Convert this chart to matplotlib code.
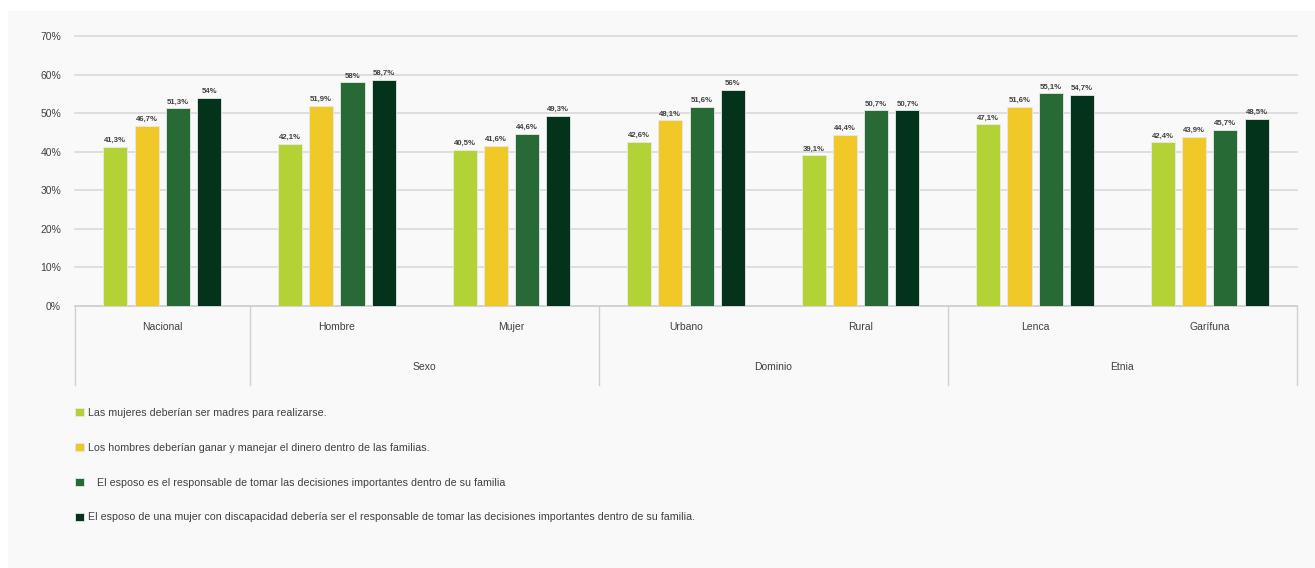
import matplotlib.pyplot as plt
from matplotlib.patches import Rectangle
import numpy as np

plt.rcParams['font.family'] = ['Liberation Sans', 'DejaVu Sans']

# Data
categories = ["Nacional", "Hombre", "Mujer", "Urbano", "Rural", "Lenca", "Garífuna"]
groups = ["", "Sexo", "Dominio", "Etnia"]
series_names = [
    "Las mujeres deberían ser madres para realizarse.",
    "Los hombres deberían ganar y manejar el dinero dentro de las familias.",
    "   El esposo es el responsable de tomar las decisiones importantes dentro de su familia",
    "El esposo de una mujer con discapacidad debería ser el responsable de tomar las decisiones importantes dentro de su familia.",
]
madres = [41.3, 42.1, 40.5, 42.6, 39.1, 47.1, 42.4]
dinero = [46.7, 51.9, 41.6, 48.1, 44.4, 51.6, 43.9]
esposo = [51.3, 58.0, 44.6, 51.6, 50.7, 55.1, 45.7]
discapacidad = [54.0, 58.7, 49.3, 56.0, 50.7, 54.7, 48.5]
colors = ["#b2d235", "#f0c929", "#286a36", "#03331b"]

W, H = 1315, 568
fig = plt.figure(figsize=(W / 100, H / 100), dpi=100)
fig.patch.set_facecolor("white")
fig.patches.append(Rectangle((8 / W, 0), 1, 1 - 11 / H, transform=fig.transFigure,
                             facecolor="#f9f9f9", edgecolor="none", zorder=-10))

ax = fig.add_axes([75 / W, 1 - 306 / H, (1297 - 75) / W, 270 / H])
ax.set_facecolor("none")

x = np.arange(len(categories))
step = 0.179
width = 0.138
all_series = [madres, dinero, esposo, discapacidad]
for i, (vals, c, name) in enumerate(zip(all_series, colors, series_names)):
    pos = x + (i - 1.5) * step
    bars = ax.bar(pos, vals, width, color=c, edgecolor="#e8e8e8", linewidth=0.6,
                  label=name, zorder=3)
    for b, v in zip(bars, vals):
        if abs(v - round(v)) < 1e-9:
            txt = f"{int(round(v))}"
        else:
            txt = f"{v:.1f}".replace(".", ",")
        ax.text(b.get_x() + b.get_width() / 2, v + 0.7, txt + "%", ha="center", va="bottom",
                fontsize=5.6, fontweight="bold", color="#404040", zorder=4)

ax.set_xlim(-0.5, len(categories) - 0.5)
ax.set_ylim(0, 70)
ax.set_yticks(range(0, 71, 10))
ax.set_yticklabels([f"{v}%" for v in range(0, 71, 10)], fontsize=7.5, color="#404040")
ax.yaxis.grid(True, color="#d9d9d9", linewidth=1.2, zorder=0)
for gl in ax.yaxis.get_gridlines():
    gl.set_clip_on(False)
ax.tick_params(axis="y", length=0, pad=10)
ax.set_xticks([])
for s in ["top", "right", "left"]:
    ax.spines[s].set_visible(False)
ax.spines["bottom"].set_color("#d0d0d0")
ax.spines["bottom"].set_linewidth(1.2)

# multi-level category axis
trans = ax.get_xaxis_transform()
for b in [-0.5, 0.5, 2.5, 4.5, 6.5]:
    ax.plot([b, b], [0, -79 / 270], transform=trans, color="#d0d0d0", lw=1.0, clip_on=False)
for xi, cat in zip(x, categories):
    ax.text(xi, -21 / 270, cat, transform=trans, ha="center", va="center",
            fontsize=7.5, color="#404040")
group_centers = [0, 1.5, 3.5, 5.5]
for gc, g in zip(group_centers, groups):
    ax.text(gc, -61 / 270, g, transform=trans, ha="center", va="center",
            fontsize=7.5, color="#404040")

fig.legend(loc="upper left", bbox_to_anchor=(75 / W, 1 - 408 / H), frameon=False,
           fontsize=7.7, labelspacing=2.32, handlelength=0.82, handleheight=0.82,
           handletextpad=0.4, borderaxespad=0, borderpad=0, labelcolor="#404040")

fig.savefig("out.png", dpi=100)
